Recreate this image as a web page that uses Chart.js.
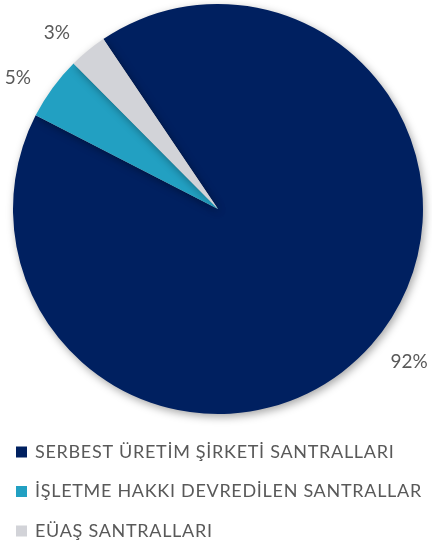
<!DOCTYPE html>
<html>
<head>
<meta charset="utf-8">
<script src="https://cdn.jsdelivr.net/npm/chart.js@4.4.1/dist/chart.umd.min.js"></script>
<style>
  html, body { margin: 0; padding: 0; background: #fff; }
  #wrap { width: 432px; height: 554px; }
</style>
</head>
<body>
<div id="wrap"><canvas id="c" width="432" height="554"></canvas></div>
<script>
// Santral türlerine göre dağılım
const categories = [
  'SERBEST ÜRETİM ŞİRKETİ SANTRALLARI',
  'İŞLETME HAKKI DEVREDİLEN SANTRALLAR',
  'EÜAŞ SANTRALLARI'
];
const shares = [92, 5, 3];
const sliceColors = ['#002060', '#22a0c2', '#d2d3d8'];

const textColor = '#595959';
const fontFamily = 'Lato, "Open Sans", sans-serif';

// Soft drop shadow under the pie
const pieShadow = {
  id: 'pieShadow',
  beforeDatasetsDraw(chart) {
    const ctx = chart.ctx;
    ctx.save();
    ctx.shadowColor = 'rgba(0,0,0,0.35)';
    ctx.shadowBlur = 8;
    ctx.shadowOffsetX = 2;
    ctx.shadowOffsetY = 3;
  },
  afterDatasetsDraw(chart) {
    chart.ctx.restore();
  }
};

// Percentage labels just outside each slice, nudged slightly counter-clockwise
const outerLabels = {
  id: 'outerLabels',
  afterDatasetsDraw(chart) {
    const ctx = chart.ctx;
    const meta = chart.getDatasetMeta(0);
    const nudge = -3 * Math.PI / 180;
    ctx.save();
    ctx.font = '19px ' + fontFamily;
    ctx.fillStyle = textColor;
    ctx.textAlign = 'center';
    ctx.textBaseline = 'middle';
    meta.data.forEach((arc, i) => {
      const text = shares[i] + '%';
      const w = ctx.measureText(text).width;
      const mid = (arc.startAngle + arc.endAngle) / 2 + nudge;
      const dist = arc.outerRadius + 21 + w * 0.5;
      const x = arc.x + Math.cos(mid) * dist;
      const y = arc.y + Math.sin(mid) * dist;
      ctx.fillText(text, x, y);
    });
    ctx.restore();
  }
};

// Legend stacked under the pie
const stackedLegend = {
  id: 'stackedLegend',
  afterDraw(chart) {
    const ctx = chart.ctx;
    const top = chart.chartArea.bottom + 38;
    const rowGap = 39.5;
    ctx.save();
    ctx.font = '18px ' + fontFamily;
    ctx.letterSpacing = '0.7px';
    ctx.textBaseline = 'middle';
    ctx.textAlign = 'left';
    categories.forEach((name, i) => {
      const y = top + i * rowGap;
      ctx.fillStyle = sliceColors[i];
      ctx.fillRect(16, y - 5.5, 11, 11);
      ctx.fillStyle = textColor;
      ctx.fillText(name, 35, y);
    });
    ctx.restore();
  }
};

new Chart(document.getElementById('c'), {
  type: 'pie',
  data: {
    labels: categories,
    datasets: [{
      data: shares,
      backgroundColor: sliceColors,
      borderWidth: 0
    }]
  },
  options: {
    responsive: false,
    animation: false,
    rotation: -34,
    layout: { padding: { left: 13, top: 4, right: 9, bottom: 140 } },
    plugins: {
      legend: { display: false },
      tooltip: { enabled: false }
    }
  },
  plugins: [pieShadow, outerLabels, stackedLegend]
});
</script>
</body>
</html>
